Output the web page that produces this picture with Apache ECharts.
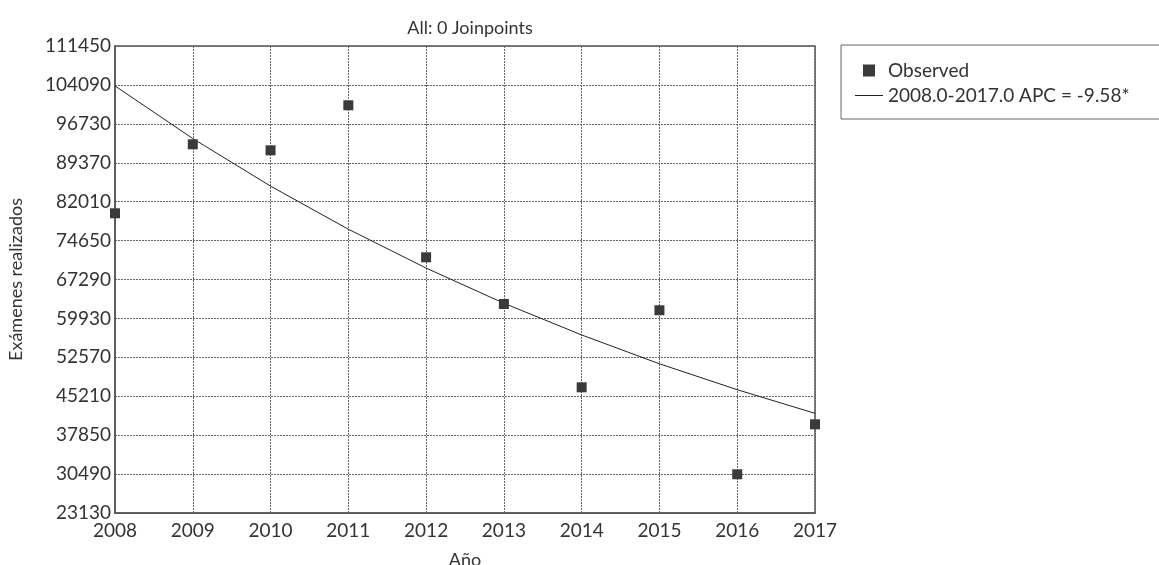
<!DOCTYPE html>
<html>
<head>
<meta charset="utf-8">
<script src="https://cdn.jsdelivr.net/npm/echarts@6/dist/echarts.min.js"></script>
<style>
  html, body { margin: 0; padding: 0; background: #fff; }
  #chart { width: 1159px; height: 565px; }
</style>
</head>
<body>
<div id="chart"></div>
<script>
// Years on the x axis
const years = [2008, 2009, 2010, 2011, 2012, 2013, 2014, 2015, 2016, 2017];
// Observed number of exams per year
const observed = [79810, 92860, 91720, 100240, 71490, 62660, 46900, 61470, 30450, 39900];
// Fitted joinpoint model (0 joinpoints, APC = -9.58)
const fitted = [103900, 93950, 84950, 76800, 69450, 62800, 56800, 51350, 46450, 41980];
// Y axis ticks
const yTicks = [23130, 30490, 37850, 45210, 52570, 59930, 67290, 74650, 82010, 89370, 96730, 104090, 111450];

const FONT = 'Lato, "DejaVu Sans", sans-serif';
const chart = echarts.init(document.getElementById('chart'));

chart.setOption({
  animation: false,
  backgroundColor: '#fff',
  textStyle: { fontFamily: FONT, color: '#333' },
  title: {
    text: 'All: 0 Joinpoints',
    left: 465,
    top: 14,
    textAlign: 'center',
    textStyle: { fontFamily: FONT, fontSize: 18, fontWeight: 'normal', color: '#333' }
  },
  legend: {
    left: 841,
    top: 45,
    orient: 'vertical',
    backgroundColor: '#fff',
    borderColor: '#666',
    borderWidth: 1,
    borderRadius: 0,
    padding: [16, 140, 14, 14],
    itemGap: 6,
    itemWidth: 28,
    itemHeight: 12,
    textStyle: { fontFamily: FONT, fontSize: 19, color: '#333' },
    data: [
      { name: 'Observed', icon: 'path://M0,0H11V11H0Z', itemStyle: { color: '#3a3a3a' } },
      { name: '2008.0-2017.0 APC = -9.58*', icon: 'path://M0,0H28V1H0Z', itemStyle: { color: '#222' } }
    ]
  },
  grid: {
    left: 115,
    top: 46,
    right: 344,
    bottom: 52,
    outerBoundsMode: 'none',
    show: true,
    borderColor: '#555',
    borderWidth: 1.5,
    backgroundColor: '#fff'
  },
  xAxis: {
    type: 'value',
    min: years[0],
    max: years[years.length - 1],
    interval: 1,
    name: 'Año',
    nameLocation: 'middle',
    nameGap: 38,
    nameTextStyle: { fontFamily: FONT, fontSize: 18, color: '#333' },
    axisLine: { show: true, lineStyle: { color: '#555', width: 1.5 } },
    axisTick: { show: false },
    axisLabel: {
      fontFamily: FONT, fontSize: 19, color: '#333', margin: 8,
      formatter: v => String(v)
    },
    splitLine: { show: true, lineStyle: { color: '#666', width: 1, type: [2, 1] } }
  },
  yAxis: {
    type: 'value',
    min: yTicks[0],
    max: yTicks[yTicks.length - 1],
    interval: yTicks[1] - yTicks[0],
    name: 'Exámenes realizados',
    nameLocation: 'middle',
    nameGap: 90,
    nameTextStyle: { fontFamily: FONT, fontSize: 18, color: '#333' },
    axisLine: { show: true, lineStyle: { color: '#555', width: 1.5 } },
    axisTick: { show: false },
    axisLabel: {
      fontFamily: FONT, fontSize: 19, color: '#333', margin: 4,
      formatter: v => String(Math.round(v))
    },
    splitLine: { show: true, lineStyle: { color: '#666', width: 1, type: [2, 1] } }
  },
  series: [
    {
      name: '2008.0-2017.0 APC = -9.58*',
      type: 'line',
      data: years.map((y, i) => [y, fitted[i]]),
      symbol: 'none',
      lineStyle: { color: '#222', width: 1 },
      itemStyle: { color: '#222' },
      z: 2
    },
    {
      name: 'Observed',
      type: 'scatter',
      data: years.map((y, i) => [y, observed[i]]),
      symbol: 'rect',
      symbolSize: 10,
      itemStyle: { color: '#3a3a3a', opacity: 1 },
      z: 3
    }
  ]
});
</script>
</body>
</html>
